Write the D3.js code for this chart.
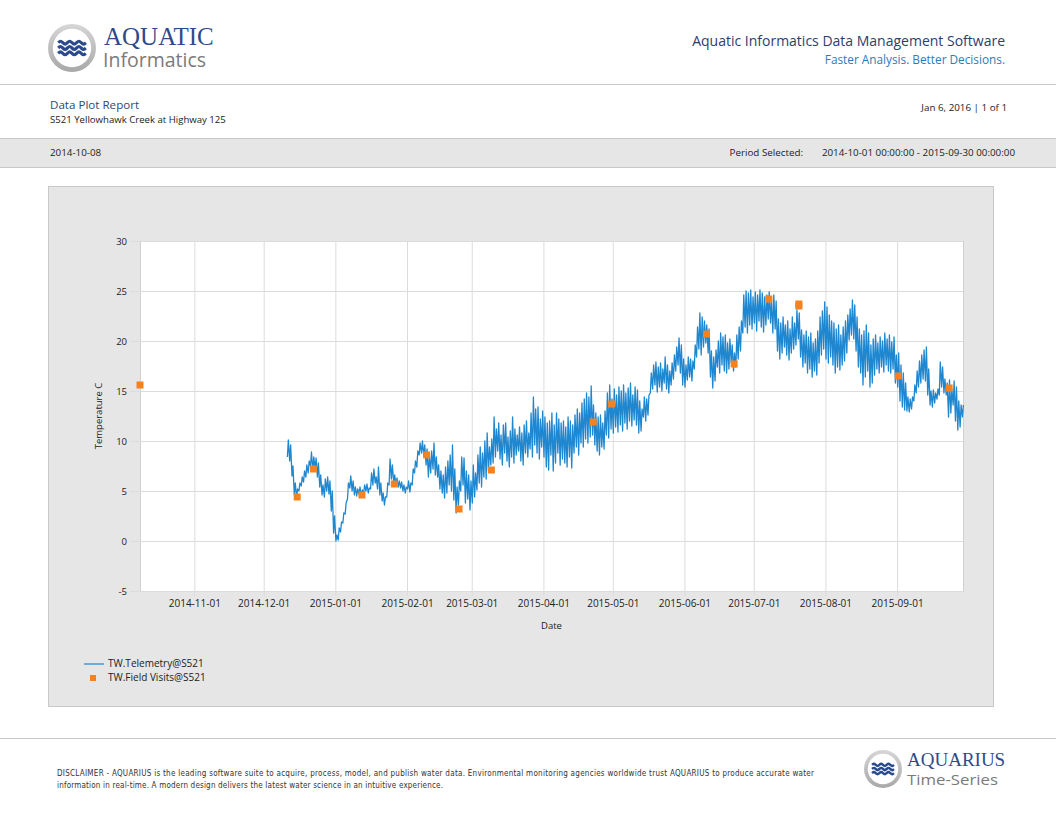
<!DOCTYPE html>
<html>
<head>
<meta charset="utf-8">
<script src="https://cdnjs.cloudflare.com/ajax/libs/d3/7.8.5/d3.min.js"></script>
<style>
  body { margin: 0; background: #fff; }
  text { font-family: "Open Sans", "Noto Sans", sans-serif; }
</style>
</head>
<body>
<div id="report"></div>
<script>
// ---- data ----
// telemetry, one [low, high] pair per day, each block starts on its date
var blockStart = ["2014-12-11", "2015-01-01", "2015-02-01", "2015-03-01", "2015-04-01",
                  "2015-05-01", "2015-06-01", "2015-07-01", "2015-08-01", "2015-09-01"];

var tmDec = [[8.4,10.1],[8.0,9.6],[6.5,7.5],[4.6,5.8],[4.4,5.2],[5.0,5.8],[5.5,6.4],[5.9,7.0],
  [6.4,7.6],[6.8,8.0],[7.5,8.9],[7.0,8.4],[7.2,8.3],[6.4,7.8],[5.4,6.6],[4.6,5.6],[4.4,6.2],
  [5.0,6.4],[4.7,6.0],[3.0,5.0],[0.8,2.5]];
var tmJan = [[0.0,0.6],[0.1,1.3],[0.9,1.9],[1.8,2.8],[2.7,3.8],[4.2,5.8],[5.3,6.5],[5.0,6.0],
  [4.6,5.4],[4.5,5.2],[4.7,5.4],[4.5,5.1],[4.8,5.6],[5.0,5.7],[4.8,5.3],[5.2,6.8],[5.6,7.2],
  [5.8,6.4],[5.2,7.4],[4.6,5.8],[4.0,4.8],[3.6,4.4],[4.4,5.8],[5.6,8.2],[6.2,7.6],[5.8,6.6],
  [5.6,6.3],[5.4,6.0],[5.3,5.9],[5.0,5.6],[4.8,5.4]];
var tmFeb = [[5.2,6.0],[4.9,5.8],[5.6,7.2],[6.8,8.0],[7.4,9.0],[8.6,9.8],[8.8,10.0],[8.5,9.6],
  [7.6,9.2],[6.4,8.6],[6.8,9.0],[7.2,9.8],[6.6,8.4],[6.4,7.6],[5.2,7.0],[4.8,6.6],[4.3,7.4],
  [4.8,8.0],[5.6,8.6],[5.0,9.6],[4.1,7.2],[2.8,5.4],[3.6,6.0],[5.0,8.4],[5.6,8.3],[3.8,7.0],
  [4.2,6.6],[3.1,6.0]];
var tmMar = [[3.8,7.6],[4.4,6.8],[5.1,8.6],[5.8,9.4],[5.4,8.8],[6.4,10.0],[6.2,10.8],[7.0,9.4],
  [7.6,10.2],[7.8,12.4],[8.4,11.2],[9.0,11.8],[8.2,10.6],[7.6,11.6],[8.8,11.8],[8.0,10.4],
  [7.4,11.0],[8.4,12.4],[7.8,11.2],[8.6,10.6],[9.0,11.4],[8.0,10.8],[7.6,11.6],[8.8,12.0],
  [8.4,10.8],[9.2,12.8],[8.4,14.4],[9.6,13.2],[8.8,13.4],[8.2,12.2],[9.4,13.0]];
var tmApr = [[8.4,12.4],[7.4,11.8],[7.1,12.0],[8.6,12.8],[7.0,11.6],[7.8,12.8],[8.8,12.2],
  [7.6,11.8],[8.2,12.0],[7.8,11.4],[7.4,12.4],[8.4,12.0],[7.3,11.6],[8.8,12.6],[9.4,13.2],
  [8.6,12.8],[9.8,13.8],[9.4,14.2],[10.2,14.8],[9.8,14.4],[10.4,15.5],[10.6,13.6],[9.6,12.8],
  [9.0,12.4],[8.6,12.6],[9.4,11.8],[9.2,13.0],[10.6,14.8],[10.3,15.6],[11.2,14.2]];
var tmMay = [[10.8,15.2],[11.4,14.6],[10.9,15.4],[11.6,15.0],[11.0,15.6],[11.8,14.8],[11.2,15.3],
  [12.0,15.8],[11.5,14.6],[12.1,15.4],[11.6,15.1],[10.8,14.0],[11.0,13.2],[12.4,14.4],
  [12.0,14.2],[12.6,14.6],[14.8,16.8],[15.2,17.6],[15.6,17.9],[14.9,17.4],[15.4,17.8],
  [15.0,17.2],[15.8,18.4],[15.2,17.6],[14.8,17.0],[15.6,17.8],[16.2,18.6],[17.0,19.4],
  [17.6,20.3],[16.8,19.6],[15.6,18.2]];
var tmJun = [[15.4,17.6],[16.1,18.4],[16.4,18.2],[16.0,18.0],[17.2,19.6],[18.4,21.4],[19.2,22.8],
  [18.6,22.4],[19.4,22.0],[19.8,21.6],[18.8,21.2],[16.4,19.0],[15.3,18.4],[16.0,19.1],
  [17.4,20.0],[16.8,20.8],[17.6,20.4],[17.0,20.6],[16.8,19.8],[17.2,20.2],[17.8,19.6],
  [17.0,18.8],[17.4,20.6],[18.2,21.4],[19.0,22.0],[20.8,24.6],[21.4,25.0],[20.8,24.8],
  [21.6,25.1],[21.2,24.4]];
var tmJul = [[21.8,24.9],[21.0,24.6],[22.0,25.1],[21.4,24.8],[20.9,24.4],[21.6,24.6],[22.2,24.9],
  [21.8,24.2],[20.8,24.6],[21.2,24.0],[19.0,22.2],[18.2,21.8],[18.8,22.4],[19.4,21.6],
  [18.6,22.0],[18.1,21.2],[18.8,22.4],[19.2,21.8],[19.6,23.1],[20.2,22.8],[18.4,21.1],
  [17.4,20.6],[17.8,21.0],[16.8,20.4],[17.2,20.8],[16.4,19.8],[17.0,20.2],[16.6,21.0],
  [17.8,22.4],[18.6,23.0],[19.2,23.9]];
var tmAug = [[18.2,23.4],[17.8,22.6],[18.4,22.0],[17.6,21.8],[16.8,21.2],[17.4,21.6],[17.1,20.6],
  [17.6,21.4],[18.0,22.0],[18.8,22.6],[20.1,23.2],[20.6,24.1],[20.2,23.6],[19.0,22.4],
  [17.4,21.2],[16.8,20.6],[15.6,21.0],[16.4,21.6],[17.0,20.8],[15.4,19.6],[15.8,20.2],
  [16.6,20.6],[17.2,19.8],[16.8,20.4],[17.4,20.0],[16.9,20.8],[17.6,20.2],[17.0,20.6],
  [16.8,19.9],[17.2,20.4],[15.8,18.6]];
var tmSep = [[15.4,18.8],[14.0,17.6],[13.4,16.8],[13.1,15.8],[13.0,14.4],[12.9,14.2],[13.2,14.4],
  [14.0,15.6],[14.8,17.0],[15.4,18.0],[15.8,18.6],[16.2,19.1],[16.0,19.4],[14.6,17.2],
  [13.6,15.0],[13.4,15.1],[13.8,14.8],[14.2,15.2],[14.6,17.9],[15.4,17.4],[14.8,16.2],
  [14.6,15.8],[12.4,16.1],[12.8,15.2],[13.6,16.0],[12.0,15.4],[11.1,14.0],[11.4,13.6],
  [12.4,13.6]];

// field visits
var visitDates = ["2014-10-08", "2014-12-15", "2014-12-22", "2015-01-12", "2015-01-26",
  "2015-02-09", "2015-02-23", "2015-03-09", "2015-04-22", "2015-04-30", "2015-06-10",
  "2015-06-22", "2015-07-07", "2015-07-20", "2015-07-20", "2015-09-01", "2015-09-23"];
var visitValues = [15.6, 4.4, 7.2, 4.6, 5.7, 8.6, 3.2, 7.1, 11.9, 13.7, 20.7, 17.7, 24.2, 23.5, 23.7, 16.5, 15.3];

var yTicks = [-5, 0, 5, 10, 15, 20, 25, 30];
var xTickDates = ["2014-11-01", "2014-12-01", "2015-01-01", "2015-02-01", "2015-03-01", "2015-04-01",
  "2015-05-01", "2015-06-01", "2015-07-01", "2015-08-01", "2015-09-01"];

// ---- build series ----
var parse = d3.utcParse("%Y-%m-%d");
var blocks = [tmDec, tmJan, tmFeb, tmMar, tmApr, tmMay, tmJun, tmJul, tmAug, tmSep];
var telemetry = [];
blocks.forEach(function(b, bi) {
  var start = parse(blockStart[bi]);
  b.forEach(function(pair, i) {
    var day = d3.utcDay.offset(start, i);
    telemetry.push({ t: d3.utcHour.offset(day, 6), v: pair[0] });
    telemetry.push({ t: d3.utcHour.offset(day, 16), v: pair[1] });
  });
});
var visits = visitDates.map(function(d, i) { return { t: d3.utcHour.offset(parse(d), 12), v: visitValues[i] }; });

var W = 1056, H = 816;
var svg = d3.select("#report").append("svg")
  .attr("width", W).attr("height", H);

var navy = "#2c3e6e", grey = "#c8c8c8";

function logo(g, cx, cy, r) {
  var grad = "ring" + cx;
  var lg = svg.append("defs").append("linearGradient").attr("id", grad)
    .attr("x1", 0).attr("y1", 0).attr("x2", 0).attr("y2", 1);
  lg.append("stop").attr("offset", 0).attr("stop-color", "#d6d6d6");
  lg.append("stop").attr("offset", 1).attr("stop-color", "#a8a8a8");
  g.append("circle").attr("cx", cx).attr("cy", cy).attr("r", r).attr("fill", "url(#" + grad + ")");
  g.append("circle").attr("cx", cx).attr("cy", cy).attr("r", r * 0.8).attr("fill", "#fff");
  var w = r * 1.15, amp = r * 0.09;
  [-0.22, 0, 0.22].forEach(function(o) {
    var y0 = cy + o * r;
    var pts = d3.range(0, 13).map(function(k) {
      return [cx - w / 2 + k * w / 12, y0 + (k % 4 === 1 ? -amp : k % 4 === 3 ? amp : 0)];
    });
    g.append("path").attr("d", d3.line().curve(d3.curveBasis)(pts))
      .attr("fill", "none").attr("stroke", "#2b4a8e").attr("stroke-width", r * 0.13);
  });
}

// ---- header ----
var head = svg.append("g");
logo(head, 72, 48, 24);
head.append("text").attr("x", 104).attr("y", 45).text("AQUATIC")
  .style("font-family", "Liberation Serif, serif").attr("font-size", 25).attr("fill", "#2f4a8c");
head.append("text").attr("x", 103).attr("y", 67).text("Informatics")
  .attr("font-size", 19.5).attr("fill", "#7a7a7a");
head.append("text").attr("x", 1005).attr("y", 46).attr("text-anchor", "end")
  .text("Aquatic Informatics Data Management Software").attr("font-size", 14).attr("fill", navy);
head.append("text").attr("x", 1005).attr("y", 64).attr("text-anchor", "end")
  .text("Faster Analysis. Better Decisions.").attr("font-size", 11.8).attr("fill", "#2a7db5");
svg.append("line").attr("x1", 0).attr("x2", W).attr("y1", 84.5).attr("y2", 84.5).attr("stroke", grey);

svg.append("text").attr("x", 50).attr("y", 109).text("Data Plot Report")
  .attr("font-size", 11.6).attr("fill", "#2d4a70");
svg.append("text").attr("x", 50).attr("y", 123).text("S521 Yellowhawk Creek at Highway 125")
  .attr("font-size", 9.6).attr("fill", "#222");
svg.append("text").attr("x", 1007).attr("y", 111).attr("text-anchor", "end").text("Jan 6, 2016 | 1 of 1")
  .attr("font-size", 9.8).attr("fill", "#222");

svg.append("rect").attr("x", -1).attr("y", 138.5).attr("width", W + 2).attr("height", 29)
  .attr("fill", "#e6e6e6").attr("stroke", grey);
svg.append("text").attr("x", 50).attr("y", 156).text("2014-10-08").attr("font-size", 9.8).attr("fill", "#222");
svg.append("text").attr("x", 803).attr("y", 156).attr("text-anchor", "end").text("Period Selected:")
  .attr("font-size", 9.8).attr("fill", "#222");
svg.append("text").attr("x", 1015).attr("y", 156).attr("text-anchor", "end")
  .text("2014-10-01 00:00:00 - 2015-09-30 00:00:00").attr("font-size", 9.8).attr("fill", "#222");

// ---- chart panel ----
svg.append("rect").attr("x", 48.5).attr("y", 186.5).attr("width", 945).attr("height", 520)
  .attr("fill", "#e6e6e6").attr("stroke", grey);

var plot = { left: 140, right: 963, top: 241, bottom: 591 };
var x = d3.scaleUtc()
  .domain([new Date(Date.UTC(2014, 9, 8, 12)), new Date(Date.UTC(2015, 8, 29, 12))])
  .range([plot.left, plot.right]);
var y = d3.scaleLinear().domain([-5, 30]).range([plot.bottom, plot.top]);

svg.append("rect").attr("x", plot.left).attr("y", plot.top)
  .attr("width", plot.right - plot.left).attr("height", plot.bottom - plot.top).attr("fill", "#fff");

var xTicks = xTickDates.map(parse);
var gx = svg.append("g").attr("transform", "translate(0," + plot.bottom + ")")
  .call(d3.axisBottom(x).tickValues(xTicks).tickFormat(d3.utcFormat("%Y-%m-%d"))
    .tickSize(-(plot.bottom - plot.top)).tickPadding(9));
gx.select(".domain").attr("stroke", "#d0d0d0");
gx.selectAll(".tick line").attr("stroke", "#dcdcdc").attr("y1", 5);
gx.selectAll("text").attr("font-size", 10).attr("fill", "#222")
  .style("font-family", "Open Sans, sans-serif");

var gy = svg.append("g").attr("transform", "translate(" + plot.left + ",0)")
  .call(d3.axisLeft(y).tickValues(yTicks).tickFormat(function(d) { return String(d); })
    .tickSize(-(plot.right - plot.left)).tickPadding(13));
gy.select(".domain").attr("stroke", "#d0d0d0");
gy.selectAll(".tick line").attr("stroke", "#dcdcdc").attr("x1", -10);
gy.selectAll("text").attr("font-size", 9.5).attr("fill", "#222")
  .style("font-family", "Open Sans, sans-serif");

svg.append("text").attr("x", (plot.left + plot.right) / 2).attr("y", 629).attr("text-anchor", "middle")
  .text("Date").attr("font-size", 9.5).attr("fill", "#222");
svg.append("text").attr("transform", "translate(102," + (plot.top + plot.bottom) / 2 + ") rotate(-90)")
  .attr("text-anchor", "middle").text("Temperature C").attr("font-size", 9.5).attr("fill", "#222");

// series
svg.append("path").datum(telemetry)
  .attr("fill", "none").attr("stroke", "#1e87d0").attr("stroke-width", 1.3).attr("stroke-linejoin", "round")
  .attr("d", d3.line().x(function(d) { return x(d.t); }).y(function(d) { return y(d.v); }));

svg.selectAll(".visit").data(visits).enter().append("rect").attr("class", "visit")
  .attr("x", function(d) { return x(d.t) - 3.5; })
  .attr("y", function(d) { return y(d.v) - 3.5; })
  .attr("width", 7).attr("height", 7).attr("fill", "#f5821f");

// legend
svg.append("line").attr("x1", 84).attr("x2", 104).attr("y1", 664).attr("y2", 664)
  .attr("stroke", "#1e87d0").attr("stroke-width", 1.2);
svg.append("text").attr("x", 108).attr("y", 667).text("TW.Telemetry@S521").attr("font-size", 10).attr("fill", "#222");
svg.append("rect").attr("x", 90).attr("y", 675).attr("width", 6).attr("height", 6).attr("fill", "#f5821f");
svg.append("text").attr("x", 108).attr("y", 681).text("TW.Field Visits@S521").attr("font-size", 10).attr("fill", "#222");

// ---- footer ----
svg.append("line").attr("x1", 0).attr("x2", W).attr("y1", 738.5).attr("y2", 738.5).attr("stroke", grey);
svg.append("text").attr("x", 57).attr("y", 776)
  .attr("textLength", 757).attr("lengthAdjust", "spacing")
  .text("DISCLAIMER - AQUARIUS is the leading software suite to acquire, process, model, and publish water data. Environmental monitoring agencies worldwide trust AQUARIUS to produce accurate water")
  .style("font-family", "Liberation Sans Narrow, DejaVu Sans Condensed, sans-serif").attr("font-size", 8).attr("fill", "#333");
svg.append("text").attr("x", 57).attr("y", 788)
  .attr("textLength", 386).attr("lengthAdjust", "spacing")
  .text("information in real-time. A modern design delivers the latest water science in an intuitive experience.")
  .style("font-family", "Liberation Sans Narrow, DejaVu Sans Condensed, sans-serif").attr("font-size", 8).attr("fill", "#333");

var foot = svg.append("g");
logo(foot, 883, 769, 19);
foot.append("text").attr("x", 907).attr("y", 766).text("AQUARIUS")
  .style("font-family", "Liberation Serif, serif").attr("font-size", 19).attr("fill", "#2f4a8c");
foot.append("text").attr("x", 907).attr("y", 785).attr("textLength", 91).attr("lengthAdjust", "spacingAndGlyphs")
  .text("Time-Series").attr("font-size", 14.5).attr("fill", "#7a7a7a");
</script>
</body>
</html>
